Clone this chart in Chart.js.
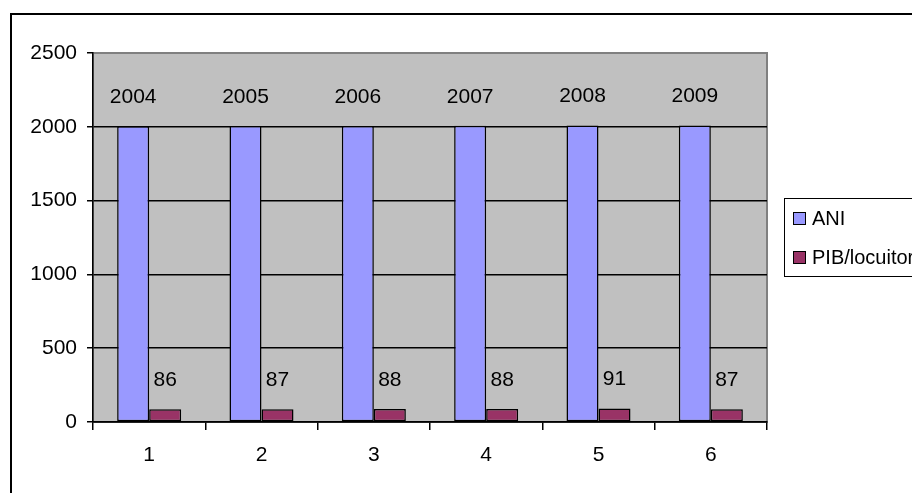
<!DOCTYPE html>
<html>
<head>
<meta charset="utf-8">
<script src="https://cdn.jsdelivr.net/npm/chart.js@4/dist/chart.umd.min.js"></script>
<style>
  html, body { margin: 0; padding: 0; background: #fff; }
  canvas { display: block; }
</style>
</head>
<body>
<canvas id="chart" width="912" height="493"></canvas>
<script>
const categories = ["1", "2", "3", "4", "5", "6"];
const aniValues = [2004, 2005, 2006, 2007, 2008, 2009];
const pibValues = [86, 87, 88, 88, 91, 87];
const seriesNames = ["ANI", "PIB/locuitor"];
const seriesColors = ["#9999FF", "#993366"];

const FONT = "'Liberation Sans', Arial, sans-serif";

// fondo blanco, marco exterior y area gris del grafico
const backgroundPlugin = {
  id: "background",
  beforeDraw(chart) {
    const { ctx, chartArea: a } = chart;
    ctx.save();
    ctx.fillStyle = "#fff";
    ctx.fillRect(0, 0, chart.width, chart.height);
    ctx.strokeStyle = "#000";
    ctx.lineWidth = 2;
    ctx.strokeRect(11, 14, 1000, 1000);
    ctx.fillStyle = "#C0C0C0";
    ctx.fillRect(a.left, a.top, a.right - a.left, a.bottom - a.top);
    ctx.strokeStyle = "#808080";
    ctx.lineWidth = 2;
    ctx.strokeRect(a.left, a.top, a.right - a.left, a.bottom - a.top);
    ctx.restore();
  },
};

// etiquetas de valor encima de cada barra
const valueLabels = {
  id: "valueLabels",
  afterDatasetsDraw(chart) {
    const { ctx } = chart;
    ctx.save();
    ctx.font = "21px " + FONT;
    ctx.fillStyle = "#000";
    ctx.textAlign = "center";
    ctx.textBaseline = "middle";
    chart.data.datasets.forEach((ds, i) => {
      chart.getDatasetMeta(i).data.forEach((bar, j) => {
        ctx.fillText(String(ds.data[j]), bar.x, bar.y - 29);
      });
    });
    ctx.restore();
  },
};

// leyenda con recuadro, como en Excel
const boxLegend = {
  id: "boxLegend",
  afterDraw(chart) {
    const { ctx } = chart;
    const x = 784, y = 198;
    ctx.save();
    ctx.fillStyle = "#fff";
    ctx.fillRect(x, y, 200, 78);
    ctx.strokeStyle = "#000";
    ctx.lineWidth = 1;
    ctx.strokeRect(x + 0.5, y + 0.5, 200, 78);
    ctx.font = "20px " + FONT;
    ctx.textBaseline = "middle";
    chart.data.datasets.forEach((ds, i) => {
      const cy = y + 21 + i * 39;
      ctx.fillStyle = ds.backgroundColor;
      ctx.fillRect(x + 9.5, cy - 6.5, 12, 12);
      ctx.strokeStyle = "#000";
      ctx.strokeRect(x + 9.5, cy - 6.5, 12, 12);
      ctx.fillStyle = "#000";
      ctx.fillText(ds.label, x + 28, cy);
    });
    ctx.restore();
  },
};

new Chart(document.getElementById("chart"), {
  type: "bar",
  data: {
    labels: categories,
    datasets: [
      {
        label: seriesNames[0],
        data: aniValues,
        backgroundColor: seriesColors[0],
        borderColor: "#000",
        borderWidth: 1.5,
        borderSkipped: false,
      },
      {
        label: seriesNames[1],
        data: pibValues,
        backgroundColor: seriesColors[1],
        borderColor: "#000",
        borderWidth: 1.5,
        borderSkipped: false,
      },
    ],
  },
  options: {
    responsive: false,
    animation: false,
    devicePixelRatio: 1,
    barPercentage: 1,
    categoryPercentage: 0.57,
    layout: { padding: { left: 10, top: 53, right: 145, bottom: 0 } },
    plugins: {
      legend: { display: false },
      tooltip: { enabled: false },
    },
    scales: {
      x: {
        grid: {
          offset: true,
          drawOnChartArea: false,
          tickLength: 8,
          color: "#000",
          lineWidth: 1.5,
        },
        border: { color: "#000", width: 1.5 },
        ticks: { font: { family: FONT, size: 21 }, color: "#000", padding: 13 },
        afterFit(s) { s.height = 71; },
      },
      y: {
        min: 0,
        max: 2500,
        grid: {
          color: (c) => (c.tick && c.tick.value === 2500 ? "rgba(0,0,0,0)" : "#000"),
          tickColor: "#000",
          tickLength: 6,
          lineWidth: 1.5,
        },
        border: { color: "#000", width: 1.5 },
        ticks: {
          stepSize: 500,
          font: { family: FONT, size: 21 },
          color: "#000",
          padding: 10,
          callback: (v) => String(v),
        },
        afterFit(s) { s.width = 83; },
      },
    },
  },
  plugins: [backgroundPlugin, valueLabels, boxLegend],
});
</script>
</body>
</html>
